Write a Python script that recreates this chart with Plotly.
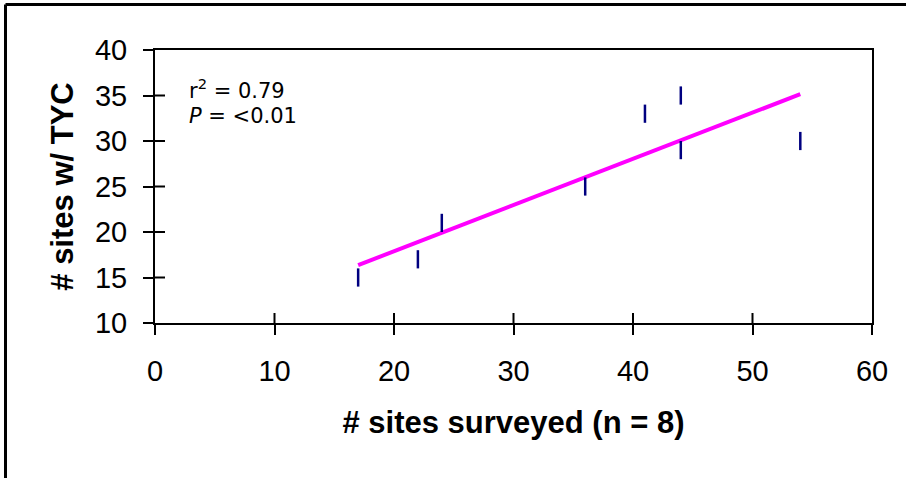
import numpy as np
import plotly.graph_objects as go

# Data
sites_surveyed = [17, 22, 24, 36, 41, 44, 44, 54]
sites_with_tyc = [15, 17, 21, 25, 33, 35, 29, 30]
x_ticks = [0, 10, 20, 30, 40, 50, 60]
y_ticks = [10, 15, 20, 25, 30, 35, 40]
r2_text = "r<sup>2</sup> = 0.79"
p_text = "<i>P</i> = <0.01"

# Linear regression trendline from data
slope, intercept = np.polyfit(sites_surveyed, sites_with_tyc, 1)
fit_x = [min(sites_surveyed), max(sites_surveyed)]
fit_y = [slope * v + intercept for v in fit_x]

W, H = 906, 478
L, R, T, B = 155, 34, 50, 155
pw, ph = W - L - R, H - T - B

fig = go.Figure()
fig.add_trace(go.Scatter(
    x=fit_x, y=fit_y, mode="lines",
    line=dict(color="#FF00FF", width=4),
    hoverinfo="skip", showlegend=False))
fig.add_trace(go.Scatter(
    x=sites_surveyed, y=sites_with_tyc, mode="markers",
    marker=dict(symbol="line-ns", size=13,
                line=dict(color="#000080", width=2.5), color="#000080"),
    showlegend=False))

font_family = "Liberation Sans, Arial, sans-serif"
note_family = "DejaVu Sans, sans-serif"

fig.update_layout(
    width=W, height=H,
    margin=dict(l=L, r=R, t=T, b=B, pad=0),
    paper_bgcolor="white", plot_bgcolor="white",
    font=dict(family=font_family, color="black"),
    xaxis=dict(range=[0, 60], tickvals=x_ticks, ticks="outside", ticklen=10,
               tickwidth=2, tickcolor="black", showline=True, linecolor="black",
               linewidth=2, mirror=True, showgrid=False, zeroline=False,
               tickfont=dict(size=29, family=font_family), ticklabelstandoff=11,
               title=dict(text="<b># sites surveyed (n = 8)</b>",
                          font=dict(size=31, family=font_family), standoff=26)),
    yaxis=dict(range=[10, 40], tickvals=y_ticks, ticks="outside", ticklen=10,
               tickwidth=2, tickcolor="black", showline=True, linecolor="black",
               linewidth=2, mirror=True, showgrid=False, zeroline=False,
               tickfont=dict(size=29, family=font_family), ticklabelstandoff=10,
               title=dict(text="<b># sites w/ TYC</b>",
                          font=dict(size=31, family=font_family), standoff=12)),
)

shapes = []
# inside halves of the crossing tick marks
for xv in x_ticks[1:-1]:
    shapes.append(dict(type="line", xref="x", yref="paper", x0=xv, x1=xv,
                       y0=0, y1=10 / ph, line=dict(color="black", width=2)))
for yv in y_ticks[1:-1]:
    shapes.append(dict(type="line", xref="paper", yref="y", x0=0, x1=10 / pw,
                       y0=yv, y1=yv, line=dict(color="black", width=2)))
# outer chart frame (top and left edges visible)
top_y = 1 + (T - 4.5) / ph
left_x = (5.5 - L) / pw
shapes.append(dict(type="line", xref="paper", yref="paper",
                   x0=left_x, x1=(W + 20 - L) / pw, y0=top_y, y1=top_y,
                   line=dict(color="black", width=3)))
shapes.append(dict(type="line", xref="paper", yref="paper",
                   x0=left_x, x1=left_x, y0=top_y, y1=-(B + 20) / ph,
                   line=dict(color="black", width=3)))
fig.update_layout(shapes=shapes)

fig.add_annotation(text=r2_text, xref="paper", yref="paper",
                   x=(188 - L) / pw, y=1 - (89 - T) / ph, xanchor="left",
                   yanchor="middle", showarrow=False, borderpad=0,
                   font=dict(size=21, family=note_family))
fig.add_annotation(text=p_text, xref="paper", yref="paper",
                   x=(188 - L) / pw, y=1 - (116 - T) / ph, xanchor="left",
                   yanchor="middle", showarrow=False, borderpad=0,
                   font=dict(size=21, family=note_family))

fig.write_html("out.html")
